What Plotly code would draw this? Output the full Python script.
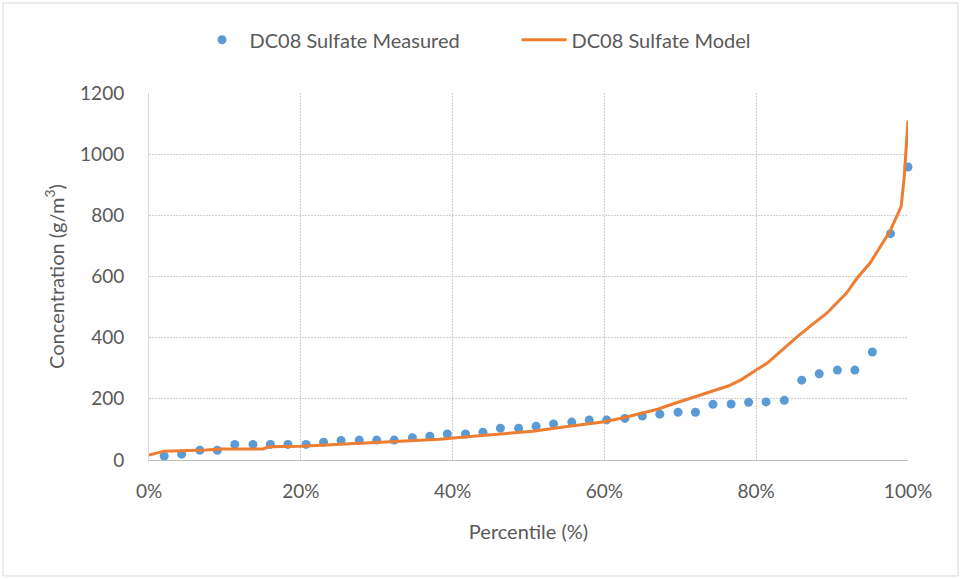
import plotly.graph_objects as go

# Measured sulfate concentrations, sorted, with their percentile rank (%)
measured_pct = [2.0, 4.3, 6.7, 9.0, 11.3, 13.7, 16.0, 18.3, 20.7, 23.0,
                25.3, 27.7, 30.0, 32.3, 34.7, 37.0, 39.3, 41.7, 44.0, 46.3,
                48.7, 51.0, 53.3, 55.7, 58.0, 60.3, 62.7, 65.0, 67.3, 69.7,
                72.0, 74.3, 76.7, 79.0, 81.3, 83.7, 86.0, 88.3, 90.7, 93.0,
                95.3, 97.7, 100.0]
measured_conc = [13, 19, 32, 32, 51, 51, 51, 51, 51, 58,
                 64, 65, 65, 65, 73, 78, 85, 85, 91, 104,
                 104, 110, 118, 124, 131, 131, 136, 144, 150, 156,
                 156, 182, 183, 189, 190, 195, 261, 282, 294, 294,
                 353, 740, 958]

# Modelled sulfate concentration distribution
model_pct = [0, 2, 7.5, 9.5, 15, 15.8, 20, 23.4, 28.7, 33.5,
             38.3, 42.3, 47.1, 50.6, 54.6, 57.5, 60, 62.5, 64.7, 67,
             69, 71, 73, 75.2, 76.3, 78, 80, 81.5, 83.1, 85.5,
             87.5, 89.3, 91.9, 93.3, 95, 96.7, 97.6, 98.5, 99.1, 99.5, 100]
model_conc = [16, 29, 33, 36, 36, 43, 45, 49, 55, 63,
              68, 77, 87, 94, 108, 117, 125, 138, 152, 166,
              183, 199, 215, 231, 242, 262, 293, 318, 353, 405,
              445, 480, 546, 595, 644, 709, 747, 796, 829, 925, 1110]

x_ticks = [0, 20, 40, 60, 80, 100]
x_tick_labels = ["0%", "20%", "40%", "60%", "80%", "100%"]
y_ticks = [0, 200, 400, 600, 800, 1000, 1200]

FONT = "Lato"
TEXT = "#595959"
GRID = "#d0d0d0"

fig = go.Figure()
fig.add_trace(go.Scatter(
    x=measured_pct, y=measured_conc, mode="markers",
    name="DC08 Sulfate Measured", cliponaxis=False,
    marker=dict(color="#5b9bd5", size=9, line=dict(width=0)),
))
fig.add_trace(go.Scatter(
    x=model_pct, y=model_conc, mode="lines",
    name="DC08 Sulfate Model", cliponaxis=False,
    line=dict(color="#ed7d31", width=3),
))

fig.update_layout(
    width=962, height=579,
    margin=dict(l=149, r=54, t=93, b=119),
    paper_bgcolor="white", plot_bgcolor="white",
    font=dict(family=FONT, size=19, color=TEXT),
    showlegend=True,
    legend=dict(
        orientation="h", x=0.06, xanchor="left", y=1.145, yanchor="middle",
        font=dict(family=FONT, size=20, color=TEXT),
        itemwidth=45, entrywidth=262, entrywidthmode="pixels",
        tracegroupgap=0, traceorder="normal",
    ),
    shapes=[dict(type="rect", xref="paper", yref="paper",
                 x0=-146 / 759, x1=1 + 50 / 759, y0=-116 / 367, y1=1 + 90 / 367,
                 line=dict(color="#d9d9d9", width=1), layer="below")],
)

fig.update_xaxes(
    range=[0, 100], tickvals=x_ticks, ticktext=x_tick_labels,
    showgrid=True, gridcolor=GRID, griddash="2px,1px", gridwidth=1,
    showline=True, linecolor="#bfbfbf", linewidth=1,
    zeroline=False, ticks="", ticklabelstandoff=14,
    tickfont=dict(family=FONT, size=19, color=TEXT),
    title=dict(text="Percentile (%)", standoff=24,
               font=dict(family=FONT, size=20, color=TEXT)),
)
fig.update_yaxes(
    range=[0, 1200], tickvals=y_ticks,
    showgrid=True, gridcolor=GRID, griddash="2px,1px", gridwidth=1,
    showline=True, linecolor="#d9d9d9", linewidth=1,
    zeroline=False, ticks="", ticklabelstandoff=20,
    tickfont=dict(family=FONT, size=19, color=TEXT),
    title=dict(text="Concentration (g/m<sup>3</sup>)", standoff=10,
               font=dict(family=FONT, size=20, color=TEXT)),
)

fig.write_html("out.html")
